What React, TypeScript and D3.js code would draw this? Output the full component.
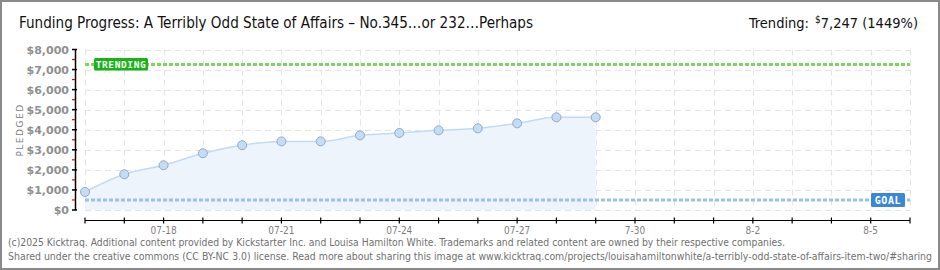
import React from "react";
import * as d3 from "d3";

const pointDates = ["2025-07-16","2025-07-17","2025-07-18","2025-07-19","2025-07-20","2025-07-21","2025-07-22","2025-07-23","2025-07-24","2025-07-25","2025-07-26","2025-07-27","2025-07-28","2025-07-29"];
const pledged = [900, 1780, 2230, 2830, 3230, 3420, 3420, 3720, 3840, 3970, 4070, 4320, 4620, 4620];
const domainDates = ["2025-07-16", "2025-08-06"];
const xTickDates = ["2025-07-18","2025-07-21","2025-07-24","2025-07-27","2025-07-30","2025-08-02","2025-08-05"];
const xTickLabels = ["07-18","07-21","07-24","07-27","7-30","8-2","8-5"];
const yTicks = [0,1000,2000,3000,4000,5000,6000,7000,8000];
const goal = 500;
const trending = 7247;
const title = "Funding Progress: A Terribly Odd State of Affairs – No.345…or 232…Perhaps";
const footer1 = "(c)2025 Kicktraq. Additional content provided by Kickstarter Inc. and Louisa Hamilton White. Trademarks and related content are owned by their respective companies.";
const footer2 = "Shared under the creative commons (CC BY-NC 3.0) license. Read more about sharing this image at www.kicktraq.com/projects/louisahamiltonwhite/a-terribly-odd-state-of-affairs-item-two/#sharing";

const W = 940, H = 270;
const L = 85, R = 910, T = 49.5, B = 210;

export default function App() {
  const parse = (s: string) => new Date(s + "T00:00:00Z");
  const x = d3.scaleUtc().domain(domainDates.map(parse)).range([L, R]);
  const y = d3.scaleLinear().domain([0, 8000]).range([B, T]);
  const pts = pointDates.map((d, i) => ({ x: x(parse(d)), y: y(pledged[i]) }));
  const line = d3.line<{x:number;y:number}>().x(d => d.x).y(d => d.y).curve(d3.curveMonotoneX);
  const area = d3.area<{x:number;y:number}>().x(d => d.x).y0(B).y1(d => d.y).curve(d3.curveMonotoneX);
  const allDays = d3.utcDay.range(parse(domainDates[0]), d3.utcDay.offset(parse(domainDates[1]), 1));
  const minorY = d3.range(500, 8000, 1000);
  const fontMain = "'DejaVu Sans Condensed', 'DejaVu Sans', sans-serif";
  const axisY = 220.5;
  return (
    <svg width={W} height={H} style={{ position: "absolute", left: 0, top: 0, background: "#fff" }} xmlns="http://www.w3.org/2000/svg">
      <rect x={1} y={1} width={W - 2} height={H - 2} fill="#fff" stroke="#8a8a8a" strokeWidth={2} />
      {/* grid */}
      {yTicks.map(t => (
        <line key={"gy" + t} x1={L} x2={R} y1={Math.round(y(t)) + 0.5} y2={Math.round(y(t)) + 0.5} stroke="#e4e4e4" strokeDasharray="6,4" />
      ))}
      {allDays.map((d, i) => (
        <line key={"gx" + i} x1={Math.round(x(d)) + 0.5} x2={Math.round(x(d)) + 0.5} y1={T} y2={B} stroke="#e4e4e4" strokeDasharray="6,4" />
      ))}
      {/* area */}
      <path d={area(pts) || ""} fill="#edf4fc" />
      <path d={line(pts) || ""} fill="none" stroke="#c2daf4" strokeWidth={1.5} />
      {/* goal line */}
      <line x1={L} x2={R} y1={y(goal)} y2={y(goal)} stroke="#9cc0e6" strokeWidth={3} strokeDasharray="4,2" />
      {/* trending line */}
      <line x1={L} x2={R} y1={y(trending)} y2={y(trending)} stroke="#7dd65a" strokeWidth={3} strokeDasharray="4,2" />
      {/* points */}
      {pts.map((p, i) => (
        <circle key={"p" + i} cx={p.x} cy={p.y} r={4.5} fill="#c4dcf6" stroke="#93a9c6" strokeWidth={1} />
      ))}
      {/* trending label */}
      <rect x={94} y={58} width={54} height={12.5} rx={1.5} fill="#17b317" />
      <text x={121} y={67.8} textAnchor="middle" fontFamily="'DejaVu Sans Mono', monospace" fontSize={9.5} fontWeight="bold" fill="#fff" letterSpacing={0.6}>TRENDING</text>
      {/* goal label */}
      <rect x={871} y={193} width={34} height={14} rx={1.5} fill="#3a87d8" />
      <text x={888} y={203.6} textAnchor="middle" fontFamily="'DejaVu Sans Mono', monospace" fontSize={10} fontWeight="bold" fill="#fff" letterSpacing={0.6}>GOAL</text>
      {/* y axis */}
      <line x1={75.5} x2={75.5} y1={T} y2={B} stroke="#000" strokeWidth={1.5} />
      {yTicks.map(t => (
        <line key={"yt" + t} x1={72} x2={77} y1={y(t)} y2={y(t)} stroke="#000" strokeWidth={1.5} />
      ))}
      {minorY.map(t => (
        <line key={"ym" + t} x1={72} x2={75} y1={y(t)} y2={y(t)} stroke="#e00000" strokeWidth={1.2} />
      ))}
      {yTicks.map(t => (
        <text key={"yl" + t} x={69} y={y(t) + 4} textAnchor="end" fontFamily="'DejaVu Sans', sans-serif" fontSize={11} fontWeight="bold" fill="#8f8f8f">
          {"$" + d3.format(",")(t)}
        </text>
      ))}
      <text transform="translate(23,130) rotate(-90)" textAnchor="middle" fontFamily="'DejaVu Sans', sans-serif" fontSize={9} fill="#808080" letterSpacing={1.5}>PLEDGED</text>
      {/* x axis */}
      <line x1={L} x2={R} y1={axisY} y2={axisY} stroke="#000" strokeWidth={1.2} />
      {allDays.map((d, i) => (
        <line key={"xt" + i} x1={x(d)} x2={x(d)} y1={217.5} y2={223.5} stroke="#000" strokeWidth={1.2} />
      ))}
      {xTickDates.map((d, i) => (
        <text key={"xl" + i} x={x(parse(d))} y={234} textAnchor="middle" fontFamily={fontMain} fontSize={10} fill="#808080">{xTickLabels[i]}</text>
      ))}
      {/* title */}
      <text x={19} y={28} fontFamily={fontMain} fontSize={16} fill="#111" textLength={514} lengthAdjust="spacingAndGlyphs">{title}</text>
      <text x={918} y={28} textAnchor="end" fontFamily={fontMain} fontSize={14.5} fill="#111">
        Trending:<tspan dx={6} fontSize={10} dy={-5}>$</tspan><tspan dy={5}>7,247 (1449%)</tspan>
      </text>
      {/* footer */}
      <text x={8} y={246} fontFamily={fontMain} fontSize={10} fill="#707070" textLength={777} lengthAdjust="spacingAndGlyphs">{footer1}</text>
      <text x={8} y={260} fontFamily={fontMain} fontSize={10} fill="#707070" textLength={924} lengthAdjust="spacingAndGlyphs">{footer2}</text>
    </svg>
  );
}
